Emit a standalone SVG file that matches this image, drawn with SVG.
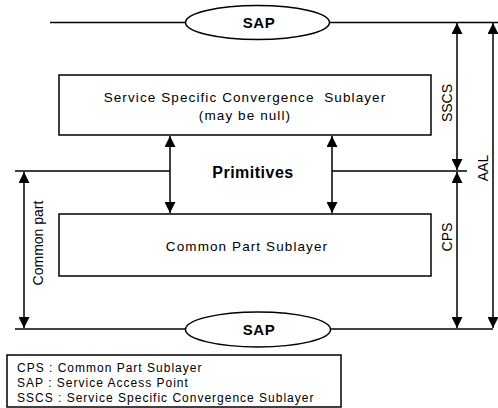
<svg xmlns="http://www.w3.org/2000/svg" width="498" height="408" viewBox="0 0 498 408">
<style>
.ln{stroke:#000;stroke-width:1.5;fill:none}
.box{stroke:#000;stroke-width:1.5;fill:#fff}
.t{font-family:"Liberation Sans",Arial,sans-serif;fill:#000}
.bt{font-size:13.5px;letter-spacing:1.1px;white-space:pre}
.lg{font-size:12px;letter-spacing:1px}
</style>
<defs>
<marker id="ahb" viewBox="0 0 10 10" refX="10" refY="5" markerWidth="11" markerHeight="11" markerUnits="userSpaceOnUse" orient="auto-start-reverse">
<path d="M0,0 L10,5 L0,10 z" fill="#000"/>
</marker>
</defs>
<rect width="498" height="408" fill="#fff"/>
<g id="connectors">
<line class="ln" x1="50" y1="22.5" x2="185" y2="22.5"/>
<line class="ln" x1="330" y1="22.5" x2="498" y2="22.5"/>
<line class="ln" x1="15" y1="171" x2="170" y2="171"/>
<line class="ln" x1="332" y1="171" x2="467" y2="171"/>
<line class="ln" x1="15" y1="329" x2="185" y2="329"/>
<line class="ln" x1="330" y1="329" x2="493" y2="329"/>
<line class="ln" x1="170" y1="136" x2="170" y2="213" marker-start="url(#ahb)" marker-end="url(#ahb)"/>
<line class="ln" x1="332" y1="136" x2="332" y2="213" marker-start="url(#ahb)" marker-end="url(#ahb)"/>
<line class="ln" x1="24" y1="172" x2="24" y2="328" marker-start="url(#ahb)" marker-end="url(#ahb)"/>
<line class="ln" x1="457" y1="23" x2="457" y2="170" marker-start="url(#ahb)" marker-end="url(#ahb)"/>
<line class="ln" x1="457" y1="172" x2="457" y2="328" marker-start="url(#ahb)" marker-end="url(#ahb)"/>
<line class="ln" x1="493" y1="23" x2="493" y2="328" marker-start="url(#ahb)" marker-end="url(#ahb)"/>
<text class="t" font-size="14" text-anchor="middle" transform="translate(452,103) rotate(-90)">SSCS</text>
<text class="t" font-size="14" text-anchor="middle" transform="translate(452,237) rotate(-90)">CPS</text>
<text class="t" font-size="14" text-anchor="middle" transform="translate(488,168) rotate(-90)">AAL</text>
<text class="t" font-size="14" text-anchor="middle" transform="translate(43,243) rotate(-90)">Common part</text>
<text class="t" font-size="16" font-weight="bold" text-anchor="middle" x="253" y="178" letter-spacing="0.5">Primitives</text>
</g>
<g id="sap-top">
<ellipse class="box" cx="257.5" cy="22.5" rx="72" ry="17"/>
<text class="t" font-size="15" font-weight="bold" text-anchor="middle" x="259" y="28" letter-spacing="0.5">SAP</text>
</g>
<g id="sscs">
<rect class="box" x="59" y="75" width="372" height="60"/>
<text class="t bt" text-anchor="middle" x="245" y="102">Service Specific Convergence  Sublayer</text>
<text class="t bt" text-anchor="middle" x="245" y="120">(may be null)</text>
</g>
<g id="cps">
<rect class="box" x="59" y="214" width="372" height="62"/>
<text class="t bt" text-anchor="middle" x="247" y="251">Common Part Sublayer</text>
</g>
<g id="sap-bottom">
<ellipse class="box" cx="258" cy="329.5" rx="72.5" ry="17.5"/>
<text class="t" font-size="15" font-weight="bold" text-anchor="middle" x="259" y="335" letter-spacing="0.5">SAP</text>
</g>
<g id="legend">
<rect class="box" x="7" y="355" width="334" height="52" stroke-width="1.2"/>
<text class="t lg" x="17" y="372">CPS : Common Part Sublayer</text>
<text class="t lg" x="17" y="387">SAP : Service Access Point</text>
<text class="t lg" x="17" y="402">SSCS : Service Specific Convergence Sublayer</text>
</g>
</svg>
